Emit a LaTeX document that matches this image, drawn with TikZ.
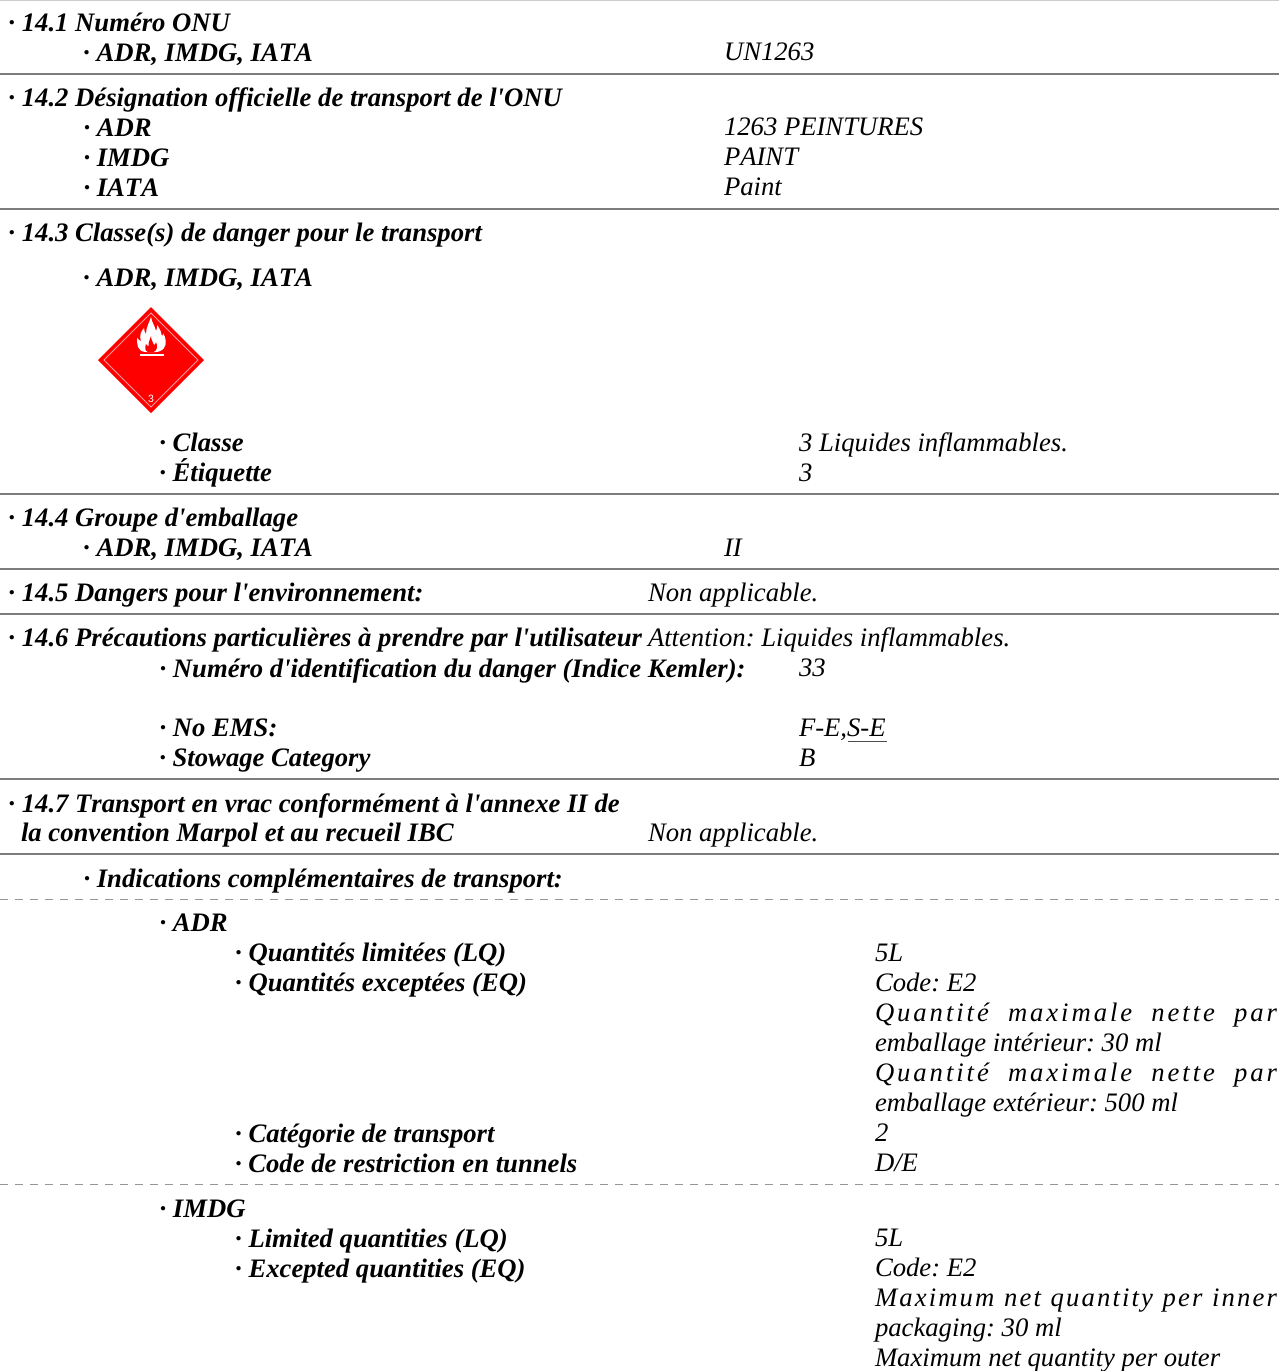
\documentclass[tikz,border=0pt]{standalone}
\usepackage{fontspec}
\newfontfamily\docfont[Kerning=Off]{Liberation Serif}
\newfontfamily\labsans{Liberation Sans}
\definecolor{rulegray}{RGB}{125,125,125}
\definecolor{dashgray}{RGB}{150,150,150}
\definecolor{hazred}{RGB}{255,0,0}
\newcommand{\spreadline}[2]{\makebox[402pt][s]{\addfontfeature{LetterSpace=#1}#2}}
\tikzset{
  x=1pt,y=-1pt,
  head/.style={anchor=base west,inner sep=0pt,outer sep=0pt,font=\frenchspacing\docfont\fontsize{26.67}{30}\selectfont\bfseries\itshape,text=black},
  val/.style={anchor=base west,inner sep=0pt,outer sep=0pt,font=\frenchspacing\docfont\fontsize{26.67}{30}\selectfont\itshape,text=black},
  sectionrule/.style={draw=rulegray,line width=1.6pt},
  dashrule/.style={draw=dashgray,line width=1pt,dash pattern=on 8pt off 7pt},
}
\begin{document}
\begin{tikzpicture}
\useasboundingbox (0,0) rectangle (1279,1371);
% rules
\draw[draw=black!20,line width=1.6pt] (0,0.5) -- (1279,0.5);
\foreach \yy in {74,209,494,569,614,779,854} \draw[sectionrule] (0,\yy) -- (1279,\yy);
\foreach \yy in {899,1184} \draw[dashrule] (0,\yy) -- (1279,\yy);
% 14.1
\node[head] (a1) at (8.5,31) {· 14.1 Numéro ONU};
\node[head] (a2) at (83.2,61) {· ADR, IMDG, IATA};
\node[val] (a3) at (724,60) {UN1263};
% 14.2
\node[head] (b1) at (8.5,106) {· 14.2 Désignation officielle de transport de l'ONU};
\node[head] (b2) at (83.5,136) {· ADR};
\node[val] (b3) at (724,135) {1263 PEINTURES};
\node[head] (b4) at (83.5,166) {· IMDG};
\node[val] (b5) at (724,165) {PAINT};
\node[head] (b6) at (83.5,196) {· IATA};
\node[val] (b7) at (724,195) {Paint};
% 14.3
\node[head] (c1) at (8.5,241) {· 14.3 Classe(s) de danger pour le transport};
\node[head] (c2) at (83.2,286) {· ADR, IMDG, IATA};
% placard
\fill[hazred] (151,307) -- (204,360) -- (151,413) -- (98,360) -- cycle;
\draw[white,opacity=.6,line width=.8pt] (151,313) -- (198,360) -- (151,407) -- (104,360) -- cycle;
\fill[white] (151,317)
  .. controls (152,323) and (155,326) .. (156,331)
  .. controls (157,329) and (157.5,327) .. (157,325)
  .. controls (161,330) and (161,333) .. (162,336)
  .. controls (163,335) and (163.5,334) .. (163,333)
  .. controls (166,338) and (167,344) .. (164,348)
  .. controls (162,351) and (158,352) .. (156,352)
  -- (146,352)
  .. controls (142,352) and (139,350) .. (138,347)
  .. controls (137,344) and (137,341) .. (137,338)
  .. controls (139,340) and (140,341) .. (141,341)
  .. controls (139,336) and (141,331) .. (144,328)
  .. controls (144,331) and (145,333) .. (146,334)
  .. controls (146,328) and (149,323) .. (151,317) -- cycle;
\fill[hazred] (151,336)
  .. controls (151,340) and (153,342) .. (154,345)
  .. controls (155.5,344) and (156,343) .. (156,342)
  .. controls (158,346) and (157,351) .. (153.5,352)
  -- (148,352)
  .. controls (145,351) and (144.5,348) .. (146,344)
  .. controls (147,345.5) and (147.5,346) .. (148.5,346)
  .. controls (148.5,342) and (150,339) .. (151,336) -- cycle;
\fill[white] (140,354.4) rectangle (163.5,356.4);
\node[anchor=base,inner sep=0pt,text=white,font=\labsans\fontsize{10.5}{11}\selectfont] (p3) at (151,402) {3};
\node[head] (c3) at (159.3,451) {· Classe};
\node[val] (c4) at (799,451) {3 Liquides inflammables.};
\node[head] (c5) at (159.3,481) {· Étiquette};
\node[val] (c6) at (799,481) {3};
% 14.4
\node[head] (d1) at (8.5,526) {· 14.4 Groupe d'emballage};
\node[head] (d2) at (83.2,556) {· ADR, IMDG, IATA};
\node[val] (d3) at (724,556) {II};
% 14.5
\node[head] (e1) at (8.5,601) {· 14.5 Dangers pour l'environnement:};
\node[val] (e2) at (648,601) {Non applicable.};
% 14.6
\node[head] (f1) at (8.5,646) {· 14.6 Précautions particulières à prendre par l'utilisateur};
\node[val] (f2) at (648,646) {Attention: Liquides inflammables.};
\node[head] (f3) at (159.6,677) {· Numéro d'identification du danger (Indice Kemler):};
\node[val] (f4) at (799,676) {33};
\node[head] (f5) at (159.6,736) {· No EMS:};
\node[val] (f6) at (799,736) {F-E,S-E};
\draw[draw=black!70,line width=1pt] (848,741.5) -- (887,741.5);
\node[head] (f7) at (159.3,766) {· Stowage Category};
\node[val] (f8) at (799,766) {B};
% 14.7
\node[head] (g1) at (8.5,812) {· 14.7 Transport en vrac conformément à l'annexe II de};
\node[head] (g2) at (21,841) {la convention Marpol et au recueil IBC};
\node[val] (g3) at (648,841) {Non applicable.};
\node[head] (g4) at (83.5,887) {· Indications complémentaires de transport:};
% ADR
\node[head] (h1) at (159.6,931) {· ADR};
\node[head] (h2) at (235.2,961) {· Quantités limitées (LQ)};
\node[val] (h3) at (875,961) {5L};
\node[head] (h4) at (235.2,991) {· Quantités exceptées (EQ)};
\node[val] (h5) at (875,991) {Code: E2};
\node[val] (h6) at (875,1021) {\spreadline{11}{Quantité maximale nette par}};
\node[val] (h7) at (875,1051) {emballage intérieur: 30 ml};
\node[val] (h8) at (875,1081) {\spreadline{11}{Quantité maximale nette par}};
\node[val] (h9) at (875,1111) {emballage extérieur: 500 ml};
\node[head] (h10) at (235.2,1142) {· Catégorie de transport};
\node[val] (h11) at (875,1141) {2};
\node[head] (h12) at (235,1172) {· Code de restriction en tunnels};
\node[val] (h13) at (875,1171) {D/E};
% IMDG
\node[head] (i1) at (159.6,1217) {· IMDG};
\node[head] (i2) at (235.2,1247) {· Limited quantities (LQ)};
\node[val] (i3) at (875,1246) {5L};
\node[head] (i4) at (235.2,1277) {· Excepted quantities (EQ)};
\node[val] (i5) at (875,1276) {Code: E2};
\node[val] (i6) at (875,1306) {\spreadline{8}{Maximum net quantity per inner}};
\node[val] (i7) at (875,1336) {packaging: 30 ml};
\node[val] (i8) at (875,1366) {Maximum net quantity per outer};
\end{tikzpicture}
\end{document}
